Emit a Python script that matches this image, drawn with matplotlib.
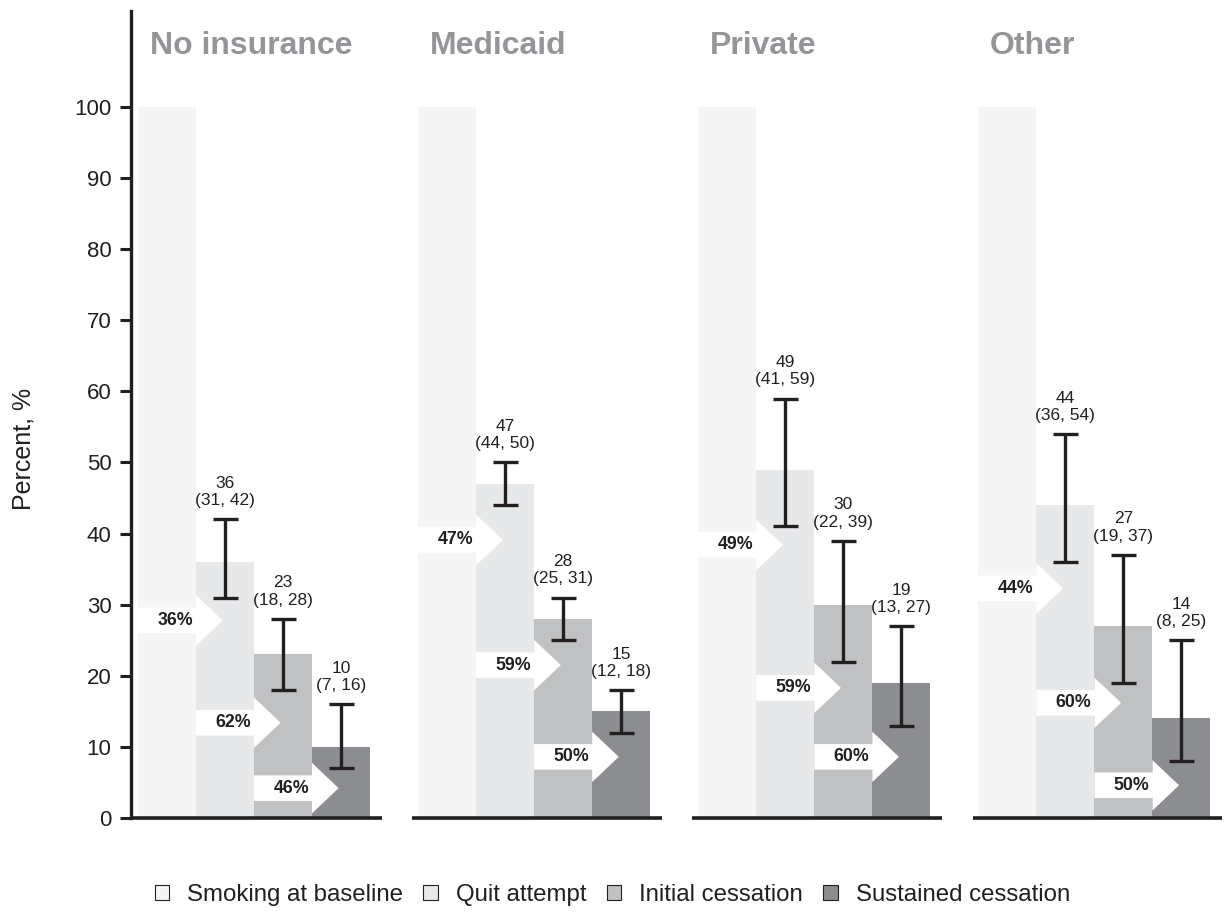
import matplotlib
matplotlib.use('Agg')
import matplotlib.pyplot as plt
from matplotlib.patches import Polygon, Patch

plt.rcParams['font.family'] = ['Liberation Sans', 'DejaVu Sans']

groups = ['No insurance', 'Medicaid', 'Private', 'Other']
series = ['Smoking at baseline', 'Quit attempt', 'Initial cessation', 'Sustained cessation']

baseline = [100, 100, 100, 100]
quit_attempt = [36, 47, 49, 44]
quit_lo = [31, 44, 41, 36]
quit_hi = [42, 50, 59, 54]
initial = [23, 28, 30, 27]
initial_lo = [18, 25, 22, 19]
initial_hi = [28, 31, 39, 37]
sustained = [10, 15, 19, 14]
sustained_lo = [7, 12, 13, 8]
sustained_hi = [16, 18, 27, 25]

# step-to-step conversion (% of previous stage)
conv_quit = [36, 47, 49, 44]
conv_initial = [62, 59, 59, 60]
conv_sustained = [46, 50, 60, 50]

# vertical placement of the conversion arrows
arrow_y = [[27.8, 13.4, 4.2],
           [39.1, 21.5, 8.6],
           [38.4, 18.3, 8.6],
           [32.3, 16.2, 4.6]]

colors = ['#f5f5f5', '#e7e8e9', '#c0c1c3', '#8c8d90']
dark = '#231f20'
title_gray = '#939598'
step = 4.83

fig = plt.figure(figsize=(12.27, 9.14), dpi=100)
ax = fig.add_axes([131 / 1227, 96 / 914, 1091 / 1227, 807 / 914])
ax.set_xlim(-0.62, 18.19)
ax.set_ylim(0, 113.5)

values = [baseline, quit_attempt, initial, sustained]
lows = [None, quit_lo, initial_lo, sustained_lo]
highs = [None, quit_hi, initial_hi, sustained_hi]
convs = [conv_quit, conv_initial, conv_sustained]

for g in range(len(groups)):
    x0 = g * step
    for i in range(4):
        x = x0 + i
        ax.bar(x, values[i][g], width=1.0, color=colors[i], linewidth=0, zorder=1)
        if lows[i] is not None:
            v, lo, hi = values[i][g], lows[i][g], highs[i][g]
            ax.errorbar(x, v, yerr=[[v - lo], [hi - v]], fmt='none', ecolor=dark,
                        elinewidth=2.4, capsize=9, capthick=2.4, zorder=4)
            ax.annotate(f'{v}\n({lo}, {hi})', xy=(x, hi), xytext=(0, 8),
                        textcoords='offset points', ha='center', va='bottom',
                        fontsize=12.5, color=dark, linespacing=1.2)
    # conversion arrows between consecutive stages
    for i in range(3):
        y = arrow_y[g][i]
        left = x0 + i - 0.5
        mid = left + 1.0
        tip = mid + 0.46
        bh, hh = 1.8, 3.55
        arrow = Polygon([(left, y - bh), (mid, y - bh), (mid, y - hh), (tip, y),
                         (mid, y + hh), (mid, y + bh), (left, y + bh)],
                        closed=True, facecolor='white', edgecolor='none', zorder=3)
        ax.add_patch(arrow)
        ax.text(left + 0.64, y, f'{convs[i][g]}%', ha='center', va='center',
                fontsize=12.8, fontweight='bold', color=dark, zorder=5)
    ax.text(x0 - 0.3, 107.5, groups[g], ha='left', va='baseline', fontsize=23,
            fontweight='bold', color=title_gray)
    line_start = -0.62 if g == 0 else x0 - 0.6
    ax.plot([line_start, x0 + 3.7], [0, 0], color=dark, linewidth=2.6,
            solid_capstyle='butt', clip_on=False, zorder=6)

for side in ['top', 'right', 'bottom']:
    ax.spines[side].set_visible(False)
ax.spines['left'].set_linewidth(2.4)
ax.spines['left'].set_color(dark)
ax.set_xticks([])
ax.set_yticks(range(0, 101, 10))
ax.tick_params(axis='y', length=8, width=2.2, color=dark, labelsize=16,
               labelcolor=dark, pad=6)

fig.text(24 / 1227, 1 - 449 / 914, 'Percent, %', rotation=90, ha='center',
         va='center', fontsize=18, color=dark)

handles = [Patch(facecolor=c, edgecolor=dark, linewidth=0.8) for c in colors]
fig.legend(handles, series, loc='center', bbox_to_anchor=(0.499, 0.021), ncol=4,
           frameon=False, fontsize=17.3, handlelength=0.6, handleheight=0.6,
           handletextpad=0.75, columnspacing=0.85, labelcolor=dark)

plt.savefig('out.png', dpi=100)
